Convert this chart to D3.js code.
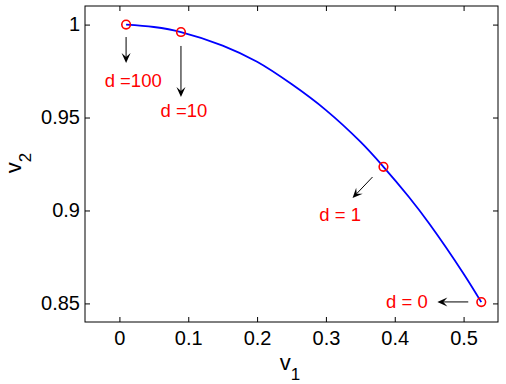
<!DOCTYPE html>
<html>
<head>
<meta charset="utf-8">
<script src="https://cdn.jsdelivr.net/npm/d3@7"></script>
<style>
  body { margin: 0; background: #fff; }
  text { font-family: "Liberation Sans", Arial, sans-serif; }
</style>
</head>
<body>
<svg id="chart"></svg>
<script>
// curve
const curveV1 = [0.0097, 0.05, 0.0894, 0.15, 0.2, 0.25, 0.3, 0.35, 0.3836, 0.42, 0.45, 0.5, 0.5257];
const curveV2 = [1.0, 0.9987, 0.996, 0.9887, 0.980, 0.968, 0.954, 0.937, 0.9235, 0.9075, 0.893, 0.866, 0.8507];

// marked points and their labels
const markLabels = ["d =100", "d =10", "d = 1", "d = 0"];
const markV1 = [0.0097, 0.0894, 0.3836, 0.5257];
const markV2 = [1.0, 0.996, 0.9235, 0.8507];

// annotation arrows (data units) and label anchors
const arrowFromV1 = [0.0097, 0.0894, 0.3677, 0.5068];
const arrowFromV2 = [0.9933, 0.9885, 0.918, 0.8508];
const arrowToV1 = [0.0097, 0.0894, 0.3387, 0.4619];
const arrowToV2 = [0.9793, 0.961, 0.9067, 0.8508];
const labelV1 = [0.020, 0.0938, 0.3207, 0.4177];
const labelV2 = [0.9664, 0.9503, 0.8943, 0.8475];

const xTicks = [0, 0.1, 0.2, 0.3, 0.4, 0.5];
const yTicks = [0.85, 0.9, 0.95, 1];

const width = 506, height = 384;
const margin = {top: 6, right: 8, bottom: 62, left: 85};
const w = width - margin.left - margin.right;
const h = height - margin.top - margin.bottom;

const svg = d3.select('#chart')
    .attr('width', width)
    .attr('height', height);

svg.append('rect').attr('width', width).attr('height', height).attr('fill', '#fff');

const g = svg.append('g')
    .attr('transform', 'translate(' + margin.left + ',' + margin.top + ')');

const x = d3.scaleLinear().domain([-0.05, 0.55]).range([0, w]);
const y = d3.scaleLinear().domain([0.84, 1.01]).range([h, 0]);

// axes, ticks pointing inward like matlab
g.append('g')
    .attr('transform', 'translate(0,' + h + ')')
    .call(d3.axisBottom(x).tickValues(xTicks).tickFormat(d3.format('')).tickSizeInner(-5).tickSizeOuter(0).tickPadding(9));
g.append('g')
    .call(d3.axisLeft(y).tickValues(yTicks).tickFormat(d3.format('')).tickSizeInner(-5).tickSizeOuter(0).tickPadding(5));
g.append('g')
    .call(d3.axisTop(x).tickValues(xTicks).tickFormat('').tickSizeInner(-5).tickSizeOuter(0));
g.append('g')
    .attr('transform', 'translate(' + w + ',0)')
    .call(d3.axisRight(y).tickValues(yTicks).tickFormat('').tickSizeInner(-5).tickSizeOuter(0));

g.selectAll('.domain').remove();
g.selectAll('.tick line').attr('stroke', '#000');
g.selectAll('.tick text').attr('font-size', 20).attr('fill', '#000');

g.append('rect')
    .attr('width', w).attr('height', h)
    .attr('fill', 'none').attr('stroke', '#000').attr('stroke-width', 1);

// the curve
const line = d3.line()
    .x(i => x(curveV1[i]))
    .y(i => y(curveV2[i]))
    .curve(d3.curveCatmullRom);

g.append('path')
    .attr('d', line(d3.range(curveV1.length)))
    .attr('fill', 'none')
    .attr('stroke', '#0000ff')
    .attr('stroke-width', 1.8);

// markers
g.selectAll('circle.mark')
    .data(markLabels)
    .enter()
    .append('circle')
    .attr('cx', (d, i) => x(markV1[i]))
    .attr('cy', (d, i) => y(markV2[i]))
    .attr('r', 4.3)
    .attr('fill', 'none')
    .attr('stroke', '#ff0000')
    .attr('stroke-width', 1.6);

// arrows
markLabels.forEach(function(d, i) {
    const x0 = x(arrowFromV1[i]), y0 = y(arrowFromV2[i]);
    const x1 = x(arrowToV1[i]), y1 = y(arrowToV2[i]);
    const ang = Math.atan2(y1 - y0, x1 - x0);
    const len = 10, half = 4.5, notch = 6;
    const ux = Math.cos(ang), uy = Math.sin(ang);
    const px = -uy, py = ux;
    g.append('line')
        .attr('x1', x0).attr('y1', y0)
        .attr('x2', x1 - ux * notch).attr('y2', y1 - uy * notch)
        .attr('stroke', '#000').attr('stroke-width', 1);
    const pts = [
        [x1, y1],
        [x1 - ux * len + px * half, y1 - uy * len + py * half],
        [x1 - ux * notch, y1 - uy * notch],
        [x1 - ux * len - px * half, y1 - uy * len - py * half]
    ];
    g.append('path')
        .attr('d', 'M' + pts.map(p => p.join(',')).join('L') + 'Z')
        .attr('fill', '#000');
});

// labels
g.selectAll('text.lab')
    .data(markLabels)
    .enter()
    .append('text')
    .attr('class', 'lab')
    .attr('x', (d, i) => x(labelV1[i]))
    .attr('y', (d, i) => y(labelV2[i]))
    .attr('text-anchor', 'middle')
    .attr('font-size', 18.5)
    .attr('fill', '#ff0000')
    .text(d => d);

// axis titles
const xl = svg.append('text')
    .attr('x', 290).attr('y', 370)
    .attr('text-anchor', 'middle')
    .attr('font-size', 22);
xl.append('tspan').text('v');
xl.append('tspan').attr('font-size', 17).attr('dy', 10).text('1');

const yl = svg.append('text')
    .attr('transform', 'translate(21,163) rotate(-90)')
    .attr('text-anchor', 'middle')
    .attr('font-size', 22);
yl.append('tspan').text('v');
yl.append('tspan').attr('font-size', 17).attr('dy', 10).text('2');
</script>
</body>
</html>
